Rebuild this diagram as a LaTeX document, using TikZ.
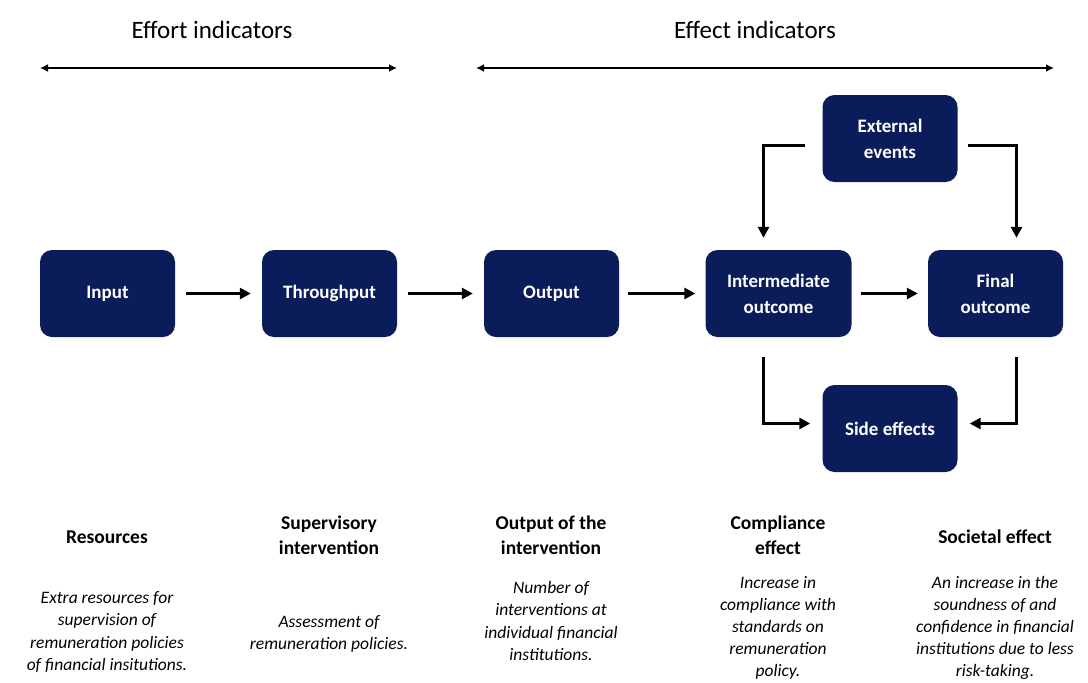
\documentclass[tikz,border=0pt]{standalone}
\usepackage{fontspec}
\setmainfont{Carlito}
\usetikzlibrary{arrows.meta}
\definecolor{navy}{RGB}{10,29,90}
\begin{document}
\begin{tikzpicture}[x=1pt,y=-1pt,
 box/.style={fill=navy, rounded corners=12pt, minimum width=135pt, minimum height=87pt, text=white, font=\fontsize{19}{26}\selectfont\bfseries, align=center, inner sep=0pt},
 flow/.style={line width=2.8pt, -{Triangle[length=11pt,width=11pt]}},
 span/.style={line width=2.6pt, {Latex[length=8pt,width=8pt]}-{Latex[length=8pt,width=8pt]}},
 head/.style={font=\fontsize{19.5}{25}\selectfont\bfseries, align=center},
 desc/.style={font=\fontsize{17.5}{22.5}\selectfont\itshape, align=center},
 ttl/.style={font=\fontsize{25}{30}\selectfont}
]
\useasboundingbox (0,0) rectangle (1088,683);

\node[ttl] (t1) at (212,30) {Effort indicators};
\node[ttl] (t2) at (755,30) {Effect indicators};
\coordinate (a1) at (40,68);
\coordinate (a2) at (397,68);
\coordinate (b1) at (476,68);
\coordinate (b2) at (1054,68);
\draw[span] (a1) -- (a2);
\draw[span] (b1) -- (b2);

\node[box] (in) at (107.5,293.5) {Input};
\node[box] (thr) at (329.5,293.5) {Throughput};
\node[box] (out) at (551.5,293.5) {Output};
\node[box, minimum width=146pt] (int) at (778.5,293.5) {Intermediate\\outcome};
\node[box] (fin) at (995.5,293.5) {Final\\outcome};
\node[box] (ext) at (890,138.5) {External\\events};
\node[box] (side) at (890,428.5) {Side effects};

\draw[flow] ([xshift=11pt]in.east) -- ([xshift=-11pt]thr.west);
\draw[flow] ([xshift=11pt]thr.east) -- ([xshift=-11pt]out.west);
\draw[flow] ([xshift=9pt]out.east) -- ([xshift=-10pt]int.west);
\draw[flow] ([xshift=9pt]int.east) -- ([xshift=-10pt]fin.west);
\draw[flow] ([xshift=-17pt,yshift=-7pt]ext.west) -| ([xshift=-15pt,yshift=12pt]int.north);
\draw[flow] ([xshift=10pt,yshift=-7pt]ext.east) -| ([xshift=21pt,yshift=12pt]fin.north);
\draw[flow] ([xshift=-15pt,yshift=-20pt]int.south) |- ([xshift=-12pt,yshift=5pt]side.west);
\draw[flow] ([xshift=21pt,yshift=-20pt]fin.south) |- ([xshift=12pt,yshift=5pt]side.east);

\node[head] (h1) at (107,537) {Resources};
\node[head] (h2) at (329,535) {Supervisory\\intervention};
\node[head] (h3) at (551,535) {Output of the\\intervention};
\node[head] (h4) at (778,535) {Compliance\\effect};
\node[head] (h5) at (995,537) {Societal effect};

\node[desc] (d1) at (107,632) {Extra resources for\\supervision of\\remuneration policies\\of financial insitutions.};
\node[desc] (d2) at (329,634) {Assessment of\\remuneration policies.};
\node[desc] (d3) at (551,621) {Number of\\interventions at\\individual financial\\institutions.};
\node[desc, font=\fontsize{17.5}{22}\selectfont\itshape] (d4) at (778,628) {Increase in\\compliance with\\standards on\\remuneration\\policy.};
\node[desc, font=\fontsize{17.5}{22}\selectfont\itshape] (d5) at (995,628) {An increase in the\\soundness of and\\confidence in financial\\institutions due to less\\risk-taking.};
\end{tikzpicture}
\end{document}
